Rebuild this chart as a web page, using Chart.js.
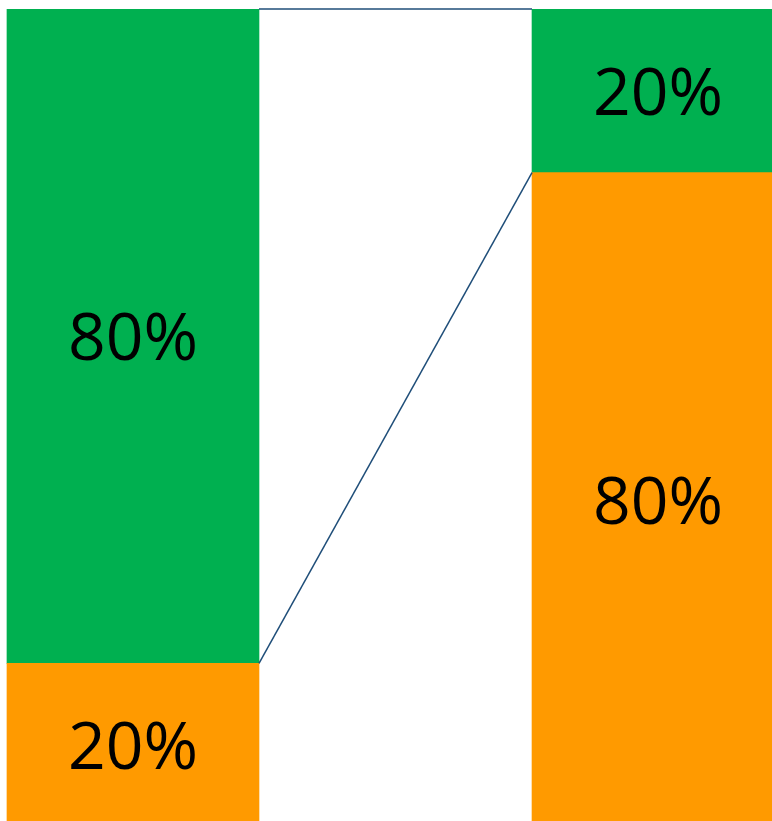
<!DOCTYPE html>
<html>
<head>
<meta charset="utf-8">
<script src="https://cdn.jsdelivr.net/npm/chart.js@4/dist/chart.umd.min.js"></script>
<style>
  html, body { margin: 0; padding: 0; background: #fff; overflow: hidden; }
  #wrap { width: 772px; height: 827px; }
</style>
</head>
<body>
<div id="wrap"><canvas id="chart"></canvas></div>
<script>
const categories = [0, 1];
const orangeValues = [20, 80];
const greenValues = [80, 20];

const green = "#00B050";
const orange = "#FF9A00";
const lineColor = "#1F4E79";

// series lines between the two stacked columns, like in excel
const seriesLines = {
  id: "seriesLines",
  afterDatasetsDraw(chart) {
    const ctx = chart.ctx;
    ctx.save();
    ctx.strokeStyle = lineColor;
    ctx.lineWidth = 1.5;
    chart.data.datasets.forEach((ds, i) => {
      const bars = chart.getDatasetMeta(i).data;
      const a = bars[0], b = bars[1];
      ctx.beginPath();
      ctx.moveTo(a.x + a.width / 2, a.y);
      ctx.lineTo(b.x - b.width / 2, b.y);
      ctx.stroke();
    });
    ctx.restore();
  }
};

const segmentLabels = {
  id: "segmentLabels",
  afterDatasetsDraw(chart) {
    const ctx = chart.ctx;
    ctx.save();
    ctx.fillStyle = "#000";
    ctx.font = "66px 'Open Sans', sans-serif";
    ctx.textAlign = "center";
    ctx.textBaseline = "middle";
    chart.data.datasets.forEach((ds, i) => {
      chart.getDatasetMeta(i).data.forEach((bar, j) => {
        const mid = (bar.y + bar.base) / 2;
        ctx.fillText(ds.data[j].y + "%", bar.x, mid + 5);
      });
    });
    ctx.restore();
  }
};

new Chart(document.getElementById("chart"), {
  type: "bar",
  data: {
    datasets: [
      {
        label: "orange",
        data: categories.map((c, i) => ({ x: c, y: orangeValues[i] })),
        backgroundColor: orange,
        barThickness: 252
      },
      {
        label: "green",
        data: categories.map((c, i) => ({ x: c, y: greenValues[i] })),
        backgroundColor: green,
        barThickness: 252
      }
    ]
  },
  options: {
    responsive: true,
    maintainAspectRatio: false,
    animation: false,
    layout: { padding: { top: 9, left: 0, right: 0, bottom: 0 } },
    plugins: { legend: { display: false }, tooltip: { enabled: false } },
    scales: {
      x: {
        type: "linear",
        stacked: true,
        offset: false,
        min: -0.2533,
        max: 1.2171,
        display: false
      },
      y: {
        stacked: true,
        min: 0,
        max: 100,
        display: false
      }
    }
  },
  plugins: [seriesLines, segmentLabels]
});
</script>
</body>
</html>
